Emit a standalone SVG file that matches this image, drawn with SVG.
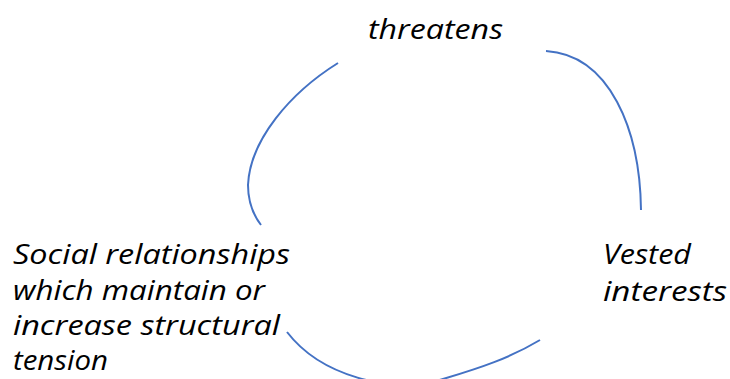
<svg xmlns="http://www.w3.org/2000/svg" width="730" height="379" viewBox="0 0 730 379">
  <style>
    .lbl { font-family: "Open Sans", "DejaVu Sans", sans-serif; font-style: italic; font-size: 27.5px; fill: #000; }
    .arc { fill: none; stroke: #4472C4; stroke-width: 2; stroke-linecap: butt; }
  </style>
  <rect width="730" height="379" fill="#fff"/>

  <g id="connectors">
    <path class="arc" d="M338,63 C290,93 250,140 248,185 Q248,208 261,225"/>
    <path class="arc" d="M546,51 C610,55 640,130 641,210"/>
    <path class="arc" d="M287,332 C320,375 390,395 443,379 C480,368 510,358 540,340"/>
  </g>

  <g id="node-threatens">
    <text class="lbl" x="368" y="39" textLength="135" lengthAdjust="spacingAndGlyphs">threatens</text>
  </g>

  <g id="node-vested-interests">
    <text class="lbl" x="603" y="264" textLength="88" lengthAdjust="spacingAndGlyphs">Vested</text>
    <text class="lbl" x="603" y="301" textLength="124" lengthAdjust="spacingAndGlyphs">interests</text>
  </g>

  <g id="node-social-relationships">
    <text class="lbl" x="13" y="264" textLength="277" lengthAdjust="spacingAndGlyphs">Social relationships</text>
    <text class="lbl" x="13" y="300" textLength="252" lengthAdjust="spacingAndGlyphs">which maintain or</text>
    <text class="lbl" x="13" y="335" textLength="267" lengthAdjust="spacingAndGlyphs">increase structural</text>
    <text class="lbl" x="13" y="370" textLength="95" lengthAdjust="spacingAndGlyphs">tension</text>
  </g>
</svg>
